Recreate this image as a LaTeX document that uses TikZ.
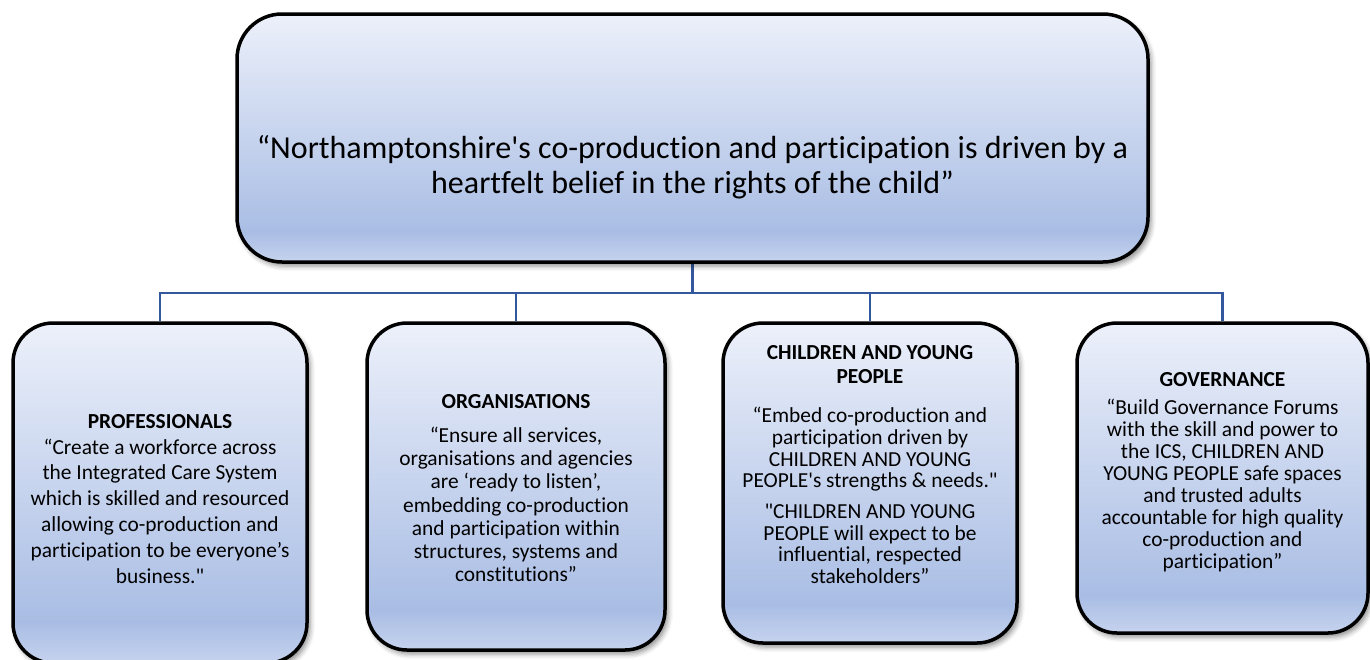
\documentclass[tikz,border=0pt]{standalone}
\usepackage{fontspec}
\setmainfont{Carlito}[Ligatures={TeXOff,NoCommon}]
\usetikzlibrary{shadows.blur,backgrounds}

\definecolor{cardtop}{RGB}{236,240,250}
\definecolor{carddeep}{RGB}{169,189,228}
\definecolor{cardlow}{RGB}{198,211,238}
\definecolor{linkblue}{RGB}{52,88,158}

% light on top, deepest near the bottom, a little lighter at the very bottom
\pgfdeclareverticalshading{cardshade}{100bp}{color(0bp)=(cardlow); color(25bp)=(cardlow);
  color(31bp)=(carddeep); color(75bp)=(cardtop); color(100bp)=(cardtop)}

\tikzset{
  card/.style={rectangle, draw=black, line width=3.5pt, rounded corners=#1,
    inner sep=0pt, shading=cardshade,
    blur shadow={shadow xshift=3pt, shadow yshift=-4pt, shadow blur radius=5pt, shadow opacity=45}},
  card/.default=40pt,
  link/.style={draw=linkblue, line width=2.2pt},
  cardtext/.style={align=center, inner sep=0pt, anchor=north, font=\fontsize{21.4}{#1}\selectfont},
}

\begin{document}
\begin{tikzpicture}[x=1pt,y=1pt]

% Define the sizes of the cards
\def\Cardw{294} % card width
\def\Busy{-293} % height of the bus line

\useasboundingbox (0,0) rectangle (1370,-659);

% Top statement
\node[card=45pt, minimum width=911pt, minimum height=248pt] (vision) at (692.5,-138) {};
\node[align=center, inner sep=0pt, font=\fontsize{32}{35}\selectfont] (visiontext) at (692.5,-167)
  {“Northamptonshire's co-production and participation is driven by a\\heartfelt belief in the rights of the child”};

% The four cards
\node[card, minimum width=\Cardw pt, minimum height=340pt] (prof) at (160,-493) {};
\node[card, minimum width=298pt, minimum height=327pt] (org) at (516,-486.5) {};
\node[card, minimum width=\Cardw pt, minimum height=320pt] (cyp) at (870,-483) {};
\node[card, minimum width=291pt, minimum height=310pt] (gov) at (1222.5,-478) {};

\node[cardtext=25.8] (proftext) at (160,-414) {\textbf{PROFESSIONALS}\\
  “Create a workforce across\\
  the Integrated Care System\\
  which is skilled and resourced\\
  allowing co-production and\\
  participation to be everyone’s\\
  business."};

\node[cardtext=23.2] (orgtext) at (516,-394) {\textbf{ORGANISATIONS}\\[11pt]
  “Ensure all services,\\
  organisations and agencies\\
  are ‘ready to listen’,\\
  embedding co-production\\
  and participation within\\
  structures, systems and\\
  constitutions”};

\node[cardtext=21.6] (cyptext) at (870,-345) {\textbf{CHILDREN AND YOUNG}\\[2.4pt]
  \textbf{PEOPLE}\\[18pt]
  “Embed co-production and\\
  participation driven by\\
  CHILDREN AND YOUNG\\
  PEOPLE's strengths \& needs."\\[9.5pt]
  "CHILDREN AND YOUNG\\
  PEOPLE will expect to be\\
  influential, respected\\
  stakeholders”};

\node[cardtext=22] (govtext) at (1222.5,-372) {\textbf{GOVERNANCE}\\[6pt]
  “Build Governance Forums\\
  with the skill and power to\\
  the ICS, CHILDREN AND\\
  YOUNG PEOPLE safe spaces\\
  and trusted adults\\
  accountable for high quality\\
  co-production and\\
  participation”};

% Draw the connectors behind the cards
\begin{scope}[on background layer]
  \draw[link] (vision.south) -- (vision.south |- 0,\Busy) coordinate (hub);
  \foreach \c in {prof,org,cyp,gov} {
    \draw[link] (hub) -| (\c.north);
  }
\end{scope}

\end{tikzpicture}
\end{document}
